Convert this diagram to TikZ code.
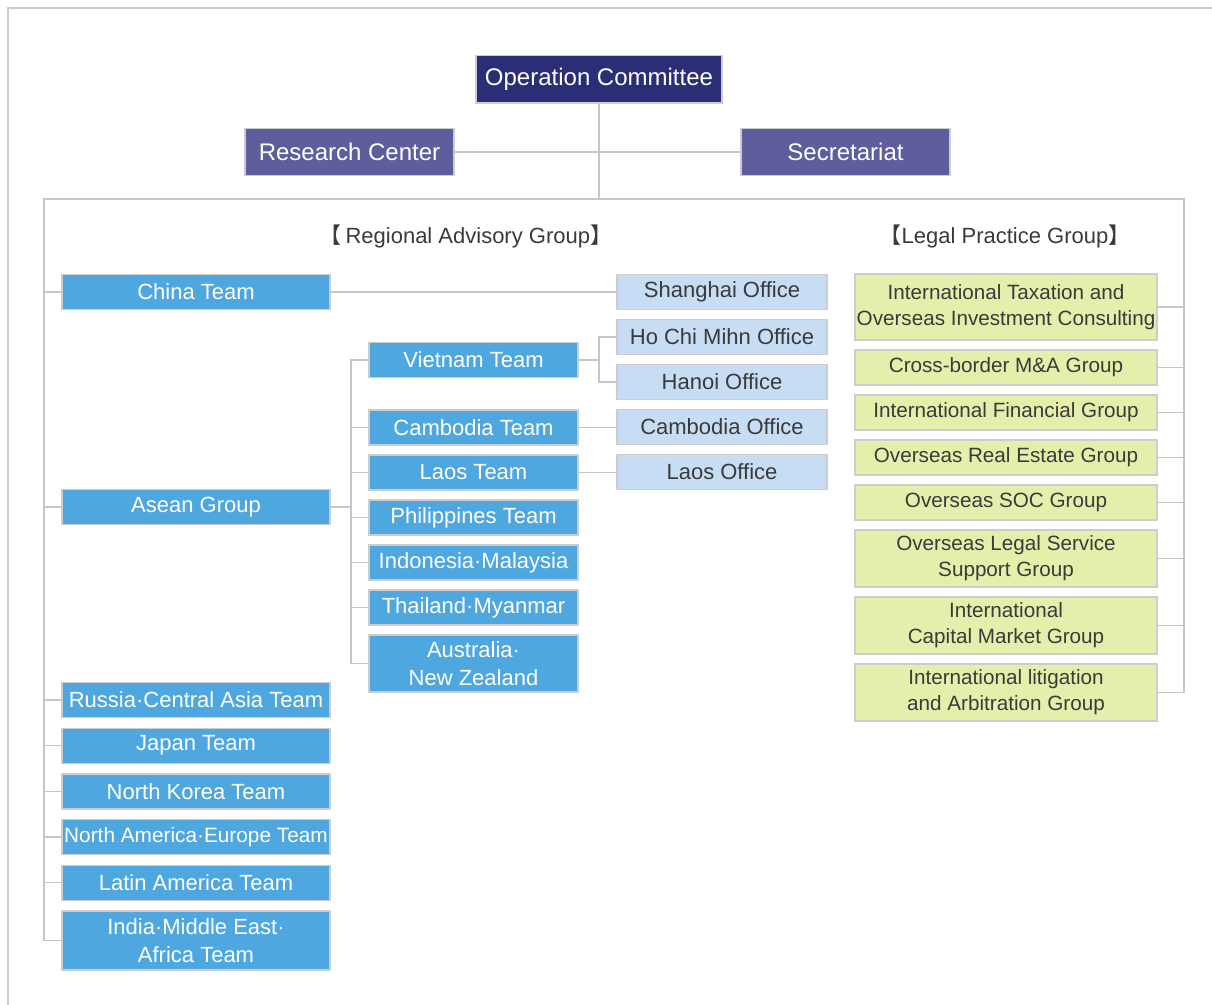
\documentclass[tikz,border=0pt]{standalone}
\usepackage{fontspec}
\setmainfont{Liberation Sans}
\newfontfamily\cjk{Noto Sans CJK KR}
\usepackage{tikz}
\usetikzlibrary{positioning}
\definecolor{CommitteeNavy}{HTML}{2B2E76}
\definecolor{CenterPurple}{HTML}{5D5E9B}
\definecolor{TeamBlue}{HTML}{4EA7DE}
\definecolor{OfficeBlue}{HTML}{C7DDF4}
\definecolor{LegalGreen}{HTML}{E6EEAC}
\definecolor{BoxLine}{HTML}{CDCDCD}
\definecolor{LinkGrey}{HTML}{C6C6C6}
\definecolor{TextGrey}{HTML}{3A3A3A}
\newcommand{\teamfont}{\fontsize{16.5}{21}\selectfont}
\newcommand{\legalfont}{\fontsize{15.5}{19.5}\selectfont}

\tikzset{
  box/.style={draw=BoxLine,line width=1pt,inner sep=0pt,align=center,minimum height=26.25pt},
  topbox/.style={box,text=white,font=\fontsize{18}{22}\selectfont,minimum height=35.5pt},
  teambox/.style={box,fill=TeamBlue,text=white,minimum width=201pt,font=\teamfont},
  midbox/.style={teambox,minimum width=156.75pt},
  officebox/.style={box,fill=OfficeBlue,text=TextGrey,minimum width=157.5pt,font=\teamfont},
  legalbox/.style={box,fill=LegalGreen,text=TextGrey,minimum width=226.5pt,font=\legalfont},
  tall/.style={minimum height=42.75pt},
  header/.style={text=TextGrey,font=\teamfont},
  link/.style={draw=LinkGrey,line width=1.1pt},
  frame/.style={draw=BoxLine,line width=1.1pt}
}

\begin{document}
\begin{tikzpicture}[x=0.75pt,y=-0.75pt,node distance=6.5pt]
  \useasboundingbox (0,0) rectangle (1212,1005);
  \draw[frame] (8,1005) -- (8,8) -- (1212,8);

  % top level
  \node[topbox,fill=CommitteeNavy,minimum width=184.5pt] (oc) at (599,79.5) {Operation Committee};
  \node[topbox,fill=CenterPurple,minimum width=156.75pt] (rc) at (349.5,152) {Research Center};
  \node[topbox,fill=CenterPurple,minimum width=156.75pt] (sec) at (845.5,152) {Secretariat};
  \coordinate (fnw) at (44,199);
  \coordinate (fne) at (1184,199);

  \node[header] (ragtitle) at (466,236) {{\cjk 【}\,Regional Advisory Group{\cjk 】}};
  \node[header] (lpgtitle) at (1005,236) {{\cjk 【}Legal Practice Group{\cjk 】}};

  % regional teams
  \node[teambox] (china) at (196,292) {China Team};
  \node[teambox] (asean) at (196,507) {Asean Group};
  \node[teambox] (russia) at (196,700) {Russia·Central Asia Team};
  \node[teambox,below=7pt of russia] (japan) {Japan Team};
  \node[teambox,below=7pt of japan] (nkorea) {North Korea Team};
  \node[teambox,below=7pt of nkorea,font=\fontsize{15.6}{19}\selectfont] (namerica) {North America·Europe Team};
  \node[teambox,below=7pt of namerica] (latin) {Latin America Team};
  \node[teambox,minimum height=44.25pt,below=7pt of latin] (india) {India·Middle East·\\Africa Team};

  % asean teams
  \node[midbox] (vietnam) at (473.5,360) {Vietnam Team};
  \node[midbox] (cambodia) at (473.5,427.5) {Cambodia Team};
  \node[midbox,below=of cambodia] (laos) {Laos Team};
  \node[midbox,below=of laos] (philippines) {Philippines Team};
  \node[midbox,below=of philippines] (indonesia) {Indonesia·Malaysia};
  \node[midbox,below=of indonesia] (thailand) {Thailand·Myanmar};
  \node[midbox,tall,below=of thailand] (australia) {Australia·\\New Zealand};

  % offices
  \node[officebox] (shanghai) at (722,292) {Shanghai Office};
  \node[officebox,below=of shanghai] (hcm) {Ho Chi Mihn Office};
  \node[officebox,below=of hcm] (hanoi) {Hanoi Office};
  \node[officebox,below=of hanoi] (camoffice) {Cambodia Office};
  \node[officebox,below=of camoffice] (laosoffice) {Laos Office};

  % legal practice
  \node[legalbox,minimum height=49.5pt] (tax) at (1006,307) {International Taxation and\\Overseas Investment Consulting};
  \node[legalbox,below=of tax] (mna) {Cross-border M\&A Group};
  \node[legalbox,below=of mna] (finance) {International Financial Group};
  \node[legalbox,below=of finance] (realestate) {Overseas Real Estate Group};
  \node[legalbox,below=of realestate] (soc) {Overseas SOC Group};
  \node[legalbox,tall,below=of soc] (legalsvc) {Overseas Legal Service\\Support Group};
  \node[legalbox,tall,below=of legalsvc] (capital) {International\\Capital Market Group};
  \node[legalbox,tall,below=of capital] (litig) {International litigation\\and Arbitration Group};

  \coordinate (mbus) at (351,360);
  \coordinate (vsplit) at (599,360);

  \draw[link] (oc.south) -- (oc.south |- fnw);
  \draw[link] (rc.east) -- (sec.west);
  \draw[link] (india.west) -| (fnw) -- (fne) |- (litig.east);
  \foreach \n in {china,asean,russia,japan,nkorea,namerica,latin}{
    \draw[link] (\n.west) -- (\n.west -| fnw);
  }
  \foreach \n in {tax,mna,finance,realestate,soc,legalsvc,capital}{
    \draw[link] (\n.east) -- (\n.east -| fne);
  }
  \draw[link] (china.east) -- (china.east -| shanghai.west);
  \draw[link] (asean.east) -- (asean.east -| mbus);
  \draw[link] (vietnam.west) -- (mbus) |- (australia.west);
  \foreach \n in {cambodia,laos,philippines,indonesia,thailand}{
    \draw[link] (\n.west) -- (\n.west -| mbus);
  }
  \draw[link] (vietnam.east) -- (vsplit);
  \draw[link] (hcm.west) -| (vsplit) |- (hanoi.west);
  \draw[link] (cambodia.east) -- (cambodia.east -| camoffice.west);
  \draw[link] (laos.east) -- (laos.east -| laosoffice.west);
\end{tikzpicture}
\end{document}
